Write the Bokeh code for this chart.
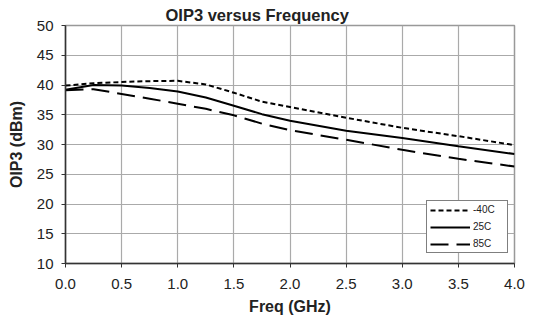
from bokeh.plotting import figure
from bokeh.models import NumeralTickFormatter, FixedTicker, Legend, LegendItem, Range1d
from bokeh.embed import file_html
from bokeh.resources import INLINE

freq = [0.0, 0.25, 0.5, 0.75, 1.0, 1.25, 1.5, 1.75, 2.0, 2.5, 3.0, 3.5, 4.0]
oip3_m40 = [39.9, 40.3, 40.5, 40.65, 40.7, 40.1, 38.7, 37.2, 36.3, 34.5, 32.8, 31.4, 29.9]
oip3_25 = [39.2, 40.0, 39.9, 39.5, 38.9, 37.9, 36.5, 35.1, 34.0, 32.3, 31.1, 29.7, 28.4]
oip3_85 = [39.1, 39.3, 38.5, 37.7, 36.85, 36.0, 34.9, 33.5, 32.4, 30.8, 29.1, 27.6, 26.3]
labels = ["-40C", "25C", "85C"]
x_ticks = [0.0, 0.5, 1.0, 1.5, 2.0, 2.5, 3.0, 3.5, 4.0]
y_ticks = [10, 15, 20, 25, 30, 35, 40, 45, 50]

FONT = "Liberation Sans"

p = figure(width=537, height=323, output_backend="svg", toolbar_location=None,
           x_range=Range1d(0, 4), y_range=Range1d(10, 50),
           min_border_left=65, min_border_right=23, min_border_top=25, min_border_bottom=60)

p.title.text = "OIP3 versus Frequency"
p.title.text_font = FONT
p.title.text_font_size = "16.5px"
p.title.text_font_style = "bold"
p.title.text_color = "#222222"
p.title.align = "left"
p.title.offset = 100
p.title.standoff = 4

p.outline_line_color = "#999999"
p.outline_line_width = 1.5
p.background_fill_color = "white"
p.border_fill_color = "white"

for ax in (p.xaxis[0], p.yaxis[0]):
    ax.axis_line_color = "#333333"
    ax.axis_line_width = 1.5
    ax.major_tick_line_color = "#333333"
    ax.major_tick_out = 4
    ax.major_tick_in = 0
    ax.minor_tick_line_color = None
    ax.major_label_text_font = FONT
    ax.major_label_text_font_size = "15px"
    ax.major_label_text_color = "#222222"
    ax.axis_label_text_font = FONT
    ax.axis_label_text_font_size = "16px"
    ax.axis_label_text_font_style = "bold"
    ax.axis_label_text_color = "#222222"

p.xaxis.ticker = FixedTicker(ticks=x_ticks)
p.yaxis.ticker = FixedTicker(ticks=y_ticks)
p.xaxis.formatter = NumeralTickFormatter(format="0.0")
p.xaxis.axis_label = "Freq (GHz)"
p.yaxis.axis_label = "OIP3 (dBm)"
p.xaxis.major_label_standoff = 11
p.yaxis.major_label_standoff = 8
p.xaxis.axis_label_standoff = 6
p.yaxis.axis_label_standoff = 9

p.xgrid.grid_line_color = "#aaaaaa"
p.ygrid.grid_line_color = "#aaaaaa"
p.xgrid.grid_line_width = 1.2
p.ygrid.grid_line_width = 1.2

r1 = p.line(freq, oip3_m40, line_color="black", line_width=2, line_dash="5 3")
r2 = p.line(freq, oip3_25, line_color="black", line_width=2)
r3 = p.line(freq, oip3_85, line_color="black", line_width=2, line_dash="18 8")

legend = Legend(items=[LegendItem(label=labels[0], renderers=[r1]),
                       LegendItem(label=labels[1], renderers=[r2]),
                       LegendItem(label=labels[2], renderers=[r3])],
                location=(361, 10))
legend.border_line_color = "black"
legend.border_line_width = 1
legend.label_text_font = FONT
legend.label_text_font_size = "10px"
legend.label_text_color = "#222222"
legend.glyph_width = 40
legend.glyph_height = 10
legend.label_height = 10
legend.label_width = 31
legend.label_standoff = 3
legend.spacing = 6
legend.padding = 3
legend.margin = 0
legend.background_fill_alpha = 1
p.add_layout(legend, "center")

open("out.html", "w").write(file_html(p, INLINE))
